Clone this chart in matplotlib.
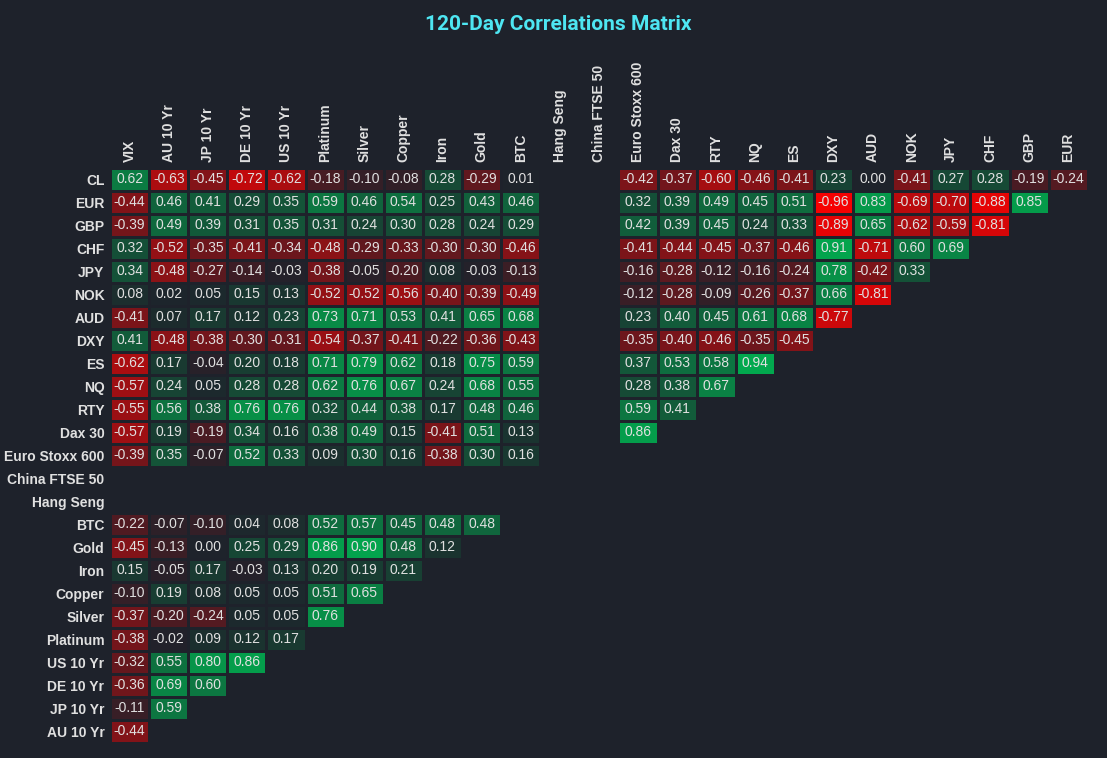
import numpy as np
import matplotlib.pyplot as plt
from matplotlib.colors import LinearSegmentedColormap

nan = np.nan

row_labels = ['CL', 'EUR', 'GBP', 'CHF', 'JPY', 'NOK', 'AUD', 'DXY', 'ES', 'NQ', 'RTY',
              'Dax 30', 'Euro Stoxx 600', 'China FTSE 50', 'Hang Seng', 'BTC', 'Gold',
              'Iron', 'Copper', 'Silver', 'Platinum', 'US 10 Yr', 'DE 10 Yr', 'JP 10 Yr',
              'AU 10 Yr']
col_labels = ['VIX', 'AU 10 Yr', 'JP 10 Yr', 'DE 10 Yr', 'US 10 Yr', 'Platinum', 'Silver',
              'Copper', 'Iron', 'Gold', 'BTC', 'Hang Seng', 'China FTSE 50',
              'Euro Stoxx 600', 'Dax 30', 'RTY', 'NQ', 'ES', 'DXY', 'AUD', 'NOK', 'JPY',
              'CHF', 'GBP', 'EUR']

# one list per row, shorter rows are padded with NaN (empty cells)
values = [
    [0.62, -0.63, -0.45, -0.72, -0.62, -0.18, -0.10, -0.08, 0.28, -0.29, 0.01, nan, nan,
     -0.42, -0.37, -0.60, -0.46, -0.41, 0.23, 0.00, -0.41, 0.27, 0.28, -0.19, -0.24],
    [-0.44, 0.46, 0.41, 0.29, 0.35, 0.59, 0.46, 0.54, 0.25, 0.43, 0.46, nan, nan,
     0.32, 0.39, 0.49, 0.45, 0.51, -0.96, 0.83, -0.69, -0.70, -0.88, 0.85],
    [-0.39, 0.49, 0.39, 0.31, 0.35, 0.31, 0.24, 0.30, 0.28, 0.24, 0.29, nan, nan,
     0.42, 0.39, 0.45, 0.24, 0.33, -0.89, 0.65, -0.62, -0.59, -0.81],
    [0.32, -0.52, -0.35, -0.41, -0.34, -0.48, -0.29, -0.33, -0.30, -0.30, -0.46, nan, nan,
     -0.41, -0.44, -0.45, -0.37, -0.46, 0.91, -0.71, 0.60, 0.69],
    [0.34, -0.48, -0.27, -0.14, -0.03, -0.38, -0.05, -0.20, 0.08, -0.03, -0.13, nan, nan,
     -0.16, -0.28, -0.12, -0.16, -0.24, 0.78, -0.42, 0.33],
    [0.08, 0.02, 0.05, 0.15, 0.13, -0.52, -0.52, -0.56, -0.40, -0.39, -0.49, nan, nan,
     -0.12, -0.28, -0.09, -0.26, -0.37, 0.66, -0.81],
    [-0.41, 0.07, 0.17, 0.12, 0.23, 0.73, 0.71, 0.53, 0.41, 0.65, 0.68, nan, nan,
     0.23, 0.40, 0.45, 0.61, 0.68, -0.77],
    [0.41, -0.48, -0.38, -0.30, -0.31, -0.54, -0.37, -0.41, -0.22, -0.36, -0.43, nan, nan,
     -0.35, -0.40, -0.46, -0.35, -0.45],
    [-0.62, 0.17, -0.04, 0.20, 0.18, 0.71, 0.79, 0.62, 0.18, 0.75, 0.59, nan, nan,
     0.37, 0.53, 0.58, 0.94],
    [-0.57, 0.24, 0.05, 0.28, 0.28, 0.62, 0.76, 0.67, 0.24, 0.68, 0.55, nan, nan,
     0.28, 0.38, 0.67],
    [-0.55, 0.56, 0.38, 0.76, 0.76, 0.32, 0.44, 0.38, 0.17, 0.48, 0.46, nan, nan,
     0.59, 0.41],
    [-0.57, 0.19, -0.19, 0.34, 0.16, 0.38, 0.49, 0.15, -0.41, 0.51, 0.13, nan, nan, 0.86],
    [-0.39, 0.35, -0.07, 0.52, 0.33, 0.09, 0.30, 0.16, -0.38, 0.30, 0.16],
    [],
    [],
    [-0.22, -0.07, -0.10, 0.04, 0.08, 0.52, 0.57, 0.45, 0.48, 0.48],
    [-0.45, -0.13, 0.00, 0.25, 0.29, 0.86, 0.90, 0.48, 0.12],
    [0.15, -0.05, 0.17, -0.03, 0.13, 0.20, 0.19, 0.21],
    [-0.10, 0.19, 0.08, 0.05, 0.05, 0.51, 0.65],
    [-0.37, -0.20, -0.24, 0.05, 0.05, 0.76],
    [-0.38, -0.02, 0.09, 0.12, 0.17],
    [-0.32, 0.55, 0.80, 0.86],
    [-0.36, 0.69, 0.60],
    [-0.11, 0.59],
    [-0.44],
]

BG = '#1e222b'
TXT = '#e0e0e0'

n_rows, n_cols = len(row_labels), len(col_labels)
mat = np.full((n_rows, n_cols), np.nan)
for i, row in enumerate(values):
    mat[i, :len(row)] = row
masked = np.ma.masked_invalid(mat)

cmap = LinearSegmentedColormap.from_list('rg', ['#ff0000', BG, '#00b050'])
cmap.set_bad(BG)

fig = plt.figure(figsize=(11.07, 7.58), dpi=100, facecolor=BG)
ax = fig.add_axes([0.0994, 0.0198, 0.8832, 0.7586])
ax.set_facecolor(BG)

ax.pcolormesh(np.arange(n_cols + 1) - 0.5, np.arange(n_rows + 1) - 0.5, masked,
              cmap=cmap, vmin=-1, vmax=1, edgecolors=BG, linewidth=1.8)
ax.set_xlim(-0.5, n_cols - 0.5)
ax.set_ylim(n_rows - 0.5, -0.5)

font = ['Liberation Sans', 'DejaVu Sans']
for i in range(n_rows):
    for j in range(n_cols):
        v = mat[i, j]
        if np.isnan(v):
            continue
        ax.text(j, i, f'{v:.2f}', ha='center', va='center', color=TXT,
                fontsize=10, family=font)

ax.xaxis.tick_top()
ax.set_xticks(range(n_cols))
ax.set_xticklabels(col_labels, rotation=90, fontsize=10, fontweight='bold',
                   color=TXT, family=font)
ax.set_yticks(range(n_rows))
ax.set_yticklabels(row_labels, fontsize=10, fontweight='bold', color=TXT,
                   family=font)
ax.tick_params(length=0, pad=4)
for s in ax.spines.values():
    s.set_visible(False)

fig.text(0.504, 0.968, '120-Day Correlations Matrix', ha='center', va='center',
         color='#4ee6f2', fontsize=15, fontweight='bold', family=['Roboto', 'DejaVu Sans'])

fig.savefig('out.png', dpi=100, facecolor=BG)
